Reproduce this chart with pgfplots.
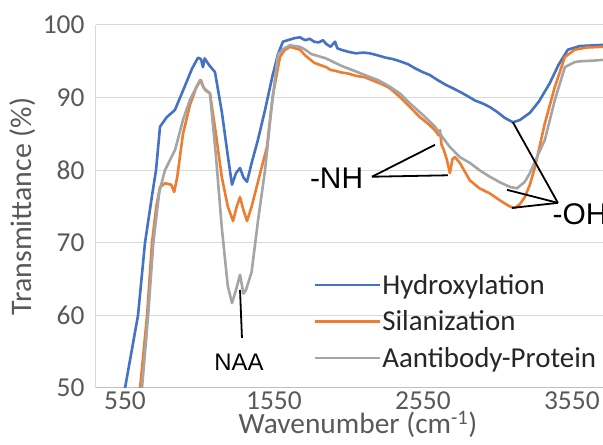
\documentclass[border=0pt]{standalone}
\usepackage{pgfplots}
\pgfplotsset{compat=1.18}
\usepackage{fontspec}
\setmainfont{Carlito}
\newfontfamily\arialf{Liberation Sans}
\definecolor{cblue}{HTML}{4472C4}
\definecolor{corange}{HTML}{ED7D31}
\definecolor{cgray}{HTML}{A5A5A5}
\definecolor{ctext}{HTML}{595959}
\definecolor{cgrid}{HTML}{D9D9D9}
\definecolor{caxis}{HTML}{BFBFBF}
\begin{document}
\begin{tikzpicture}
\begin{axis}[
  name=ax,
  at={(0,0)}, anchor=south west,
  scale only axis, width=528bp, height=363bp,
  xmin=355, xmax=3900, ymin=50, ymax=100,
  xtick={550,1550,2550,3550}, ytick={50,60,70,80,90,100},
  axis x line*=bottom, axis y line*=left,
  x axis line style={draw=caxis, line width=1bp, -},
  y axis line style={draw=cgrid, line width=1bp, -},
  major tick length=0pt,
  ymajorgrids, grid style={draw=cgrid, line width=1bp},
  /pgf/number format/1000 sep={},
  /pgf/number format/assume math mode=true,
  tick label style={font=\fontsize{27.5}{29}\selectfont, text=ctext},
  yticklabel style={xshift=-8bp},
  xticklabel style={at={(axis cs:\tick,50)}, anchor=north, inner sep=0pt, yshift=-4bp},
  ylabel={Transmittance (\%)},
  label style={font=\fontsize{30}{32}\selectfont, text=ctext},
  legend style={at={(axis cs:1812,65.9)}, anchor=north west, draw=none, fill=none,
    font=\fontsize{29}{30}\selectfont, text=black!85, row sep=12bp, inner sep=0pt,
    nodes={inner sep=1.5bp}},
  legend cell align=left,
  legend image code/.code={\draw[#1, line width=2.6bp] (0bp,0bp) -- (65bp,0bp);},
  every axis plot/.append style={line width=2.6bp, line join=round},
]
\addplot[cblue] coordinates {
(520,42) (550,50) (637,60) (684,70) (735,77) (758,80) (785,86) (830,87.3) (885,88.3)
(950,91.5) (1000,94) (1040,95.5) (1060,95.3) (1073,94.2) (1085,95.4) (1110,94.6) (1154,93.5)
(1200,88) (1240,82) (1268,78) (1295,79.6) (1322,80.3) (1345,79) (1369,78.4) (1400,81)
(1440,84) (1490,88.3) (1540,93) (1577,96) (1610,97.7) (1657,98) (1690,98.2) (1724,98.3)
(1760,97.9) (1790,98.1) (1820,97.7) (1850,97.6) (1880,97.9) (1900,97.4) (1930,97.0)
(1960,97.7) (1975,96.8) (2000,96.6) (2050,96.3) (2100,96.1) (2150,96.2) (2194,96.1)
(2250,95.8) (2300,95.5) (2350,95.3) (2396,95.0) (2450,94.6) (2500,94.0) (2550,93.5)
(2597,93.1) (2650,92.4) (2700,91.8) (2750,91.3) (2798,90.8) (2850,90.2) (2900,89.6)
(2950,89.2) (2999,88.7) (3050,88.0) (3100,87.2) (3154,86.6) (3200,86.9) (3268,87.9)
(3330,89.5) (3402,92) (3460,94.5) (3523,96.6) (3604,97.1) (3700,97.2) (3800,97.3) (3900,97.2)
};
\addlegendentry{Hydroxylation}
\addplot[corange] coordinates {
(640,46) (651,50) (698,60) (731,70) (760,75) (785,77.7) (820,78.2) (860,78) (880,77)
(900,79) (939,85) (986,89) (1030,91.5) (1060,92.4) (1075,91.5) (1090,91) (1120,90.6)
(1160,85) (1200,79) (1240,75) (1275,73) (1300,75) (1322,76.3) (1345,74.5) (1369,73)
(1400,75) (1450,79) (1503,83.2) (1540,90) (1590,95.6) (1620,96.5) (1657,97) (1724,96.6)
(1760,95.8) (1790,95.3) (1820,94.8) (1858,94.5) (1900,94.2) (1930,93.8) (1960,93.7)
(1993,93.5) (2050,93.3) (2100,93.0) (2161,92.8) (2220,92.3) (2280,91.8) (2328,91.3)
(2400,90.0) (2463,88.7) (2530,87.3) (2590,86.3) (2631,85.5) (2655,84.8) (2664,85.5)
(2675,83.5) (2690,82.8) (2710,81.5) (2731,79.6) (2748,81.5) (2765,81.8) (2798,81.0)
(2865,78.6) (2930,77.5) (2999,76.8) (3070,75.8) (3134,75.0) (3167,74.8) (3200,75.3)
(3234,76.3) (3268,78) (3302,80.4) (3369,86.5) (3436,91.5) (3503,95.6) (3570,96.6)
(3650,96.9) (3758,97) (3900,97.0)
};
\addlegendentry{Silanization}
\addplot[cgray] coordinates {
(655,46) (664,50) (705,60) (740,70) (780,77) (818,80) (886,82.8) (940,87) (986,89.7)
(1053,92.4) (1080,91.3) (1120,90.6) (1160,82) (1200,72) (1240,64) (1268,61.7) (1295,63.5)
(1322,65.6) (1345,63) (1362,63.5) (1400,66) (1443,73.1) (1490,80) (1530,88) (1577,96)
(1620,96.8) (1657,97.2) (1724,97.0) (1760,96.6) (1800,96.0) (1850,95.7) (1900,95.4)
(1959,94.8) (2000,94.4) (2050,94.0) (2100,93.6) (2161,93.1) (2250,92.4) (2328,91.5)
(2400,90.5) (2463,89.2) (2550,87.6) (2631,86.0) (2690,84.3) (2731,83.2) (2798,81.8)
(2865,81.0) (2930,80.0) (2999,79.1) (3070,78.3) (3134,77.7) (3181,77.5) (3234,78.4)
(3268,79.6) (3320,82) (3369,84.2) (3436,89.7) (3503,94.2) (3570,94.9) (3604,95.0)
(3700,95.1) (3758,95.2) (3900,95.2)
};
\addlegendentry{Aantibody-Protein}
% annotations
\draw[black, line width=1.8bp] (axis cs:2208,79.1) -- (axis cs:2631,83.5);
\draw[black, line width=1.8bp] (axis cs:2208,79.1) -- (axis cs:2718,79.3);
\node[anchor=east, inner sep=0pt, font=\arialf\fontsize{30}{32}\selectfont] at (axis cs:2150,78.9) {-NH};
\draw[black, line width=1.8bp] (axis cs:3456,75.5) -- (axis cs:3154,86.6);
\draw[black, line width=1.8bp] (axis cs:3456,75.5) -- (axis cs:3114,77.3);
\draw[black, line width=1.8bp] (axis cs:3456,75.5) -- (axis cs:3147,74.8);
\node[anchor=west, inner sep=0pt, font=\arialf\fontsize{30}{32}\selectfont] at (axis cs:3420,73.9) {-OH};
\draw[black, line width=1.8bp] (axis cs:1322,63.5) -- (axis cs:1335,56.9);
\node[inner sep=0pt, font=\arialf\fontsize{24}{26}\selectfont] at (axis cs:1315,53.6) {NAA};
\end{axis}
\node[anchor=base, inner sep=0pt, text=ctext, font=\fontsize{29.5}{31}\selectfont]
  at ([xshift=-2bp, yshift=-45bp]ax.south) {Wavenumber (cm\textsuperscript{-1})};
\pgfresetboundingbox
\path (-96bp,-57bp) rectangle (507bp,388bp);
\end{tikzpicture}
\end{document}
